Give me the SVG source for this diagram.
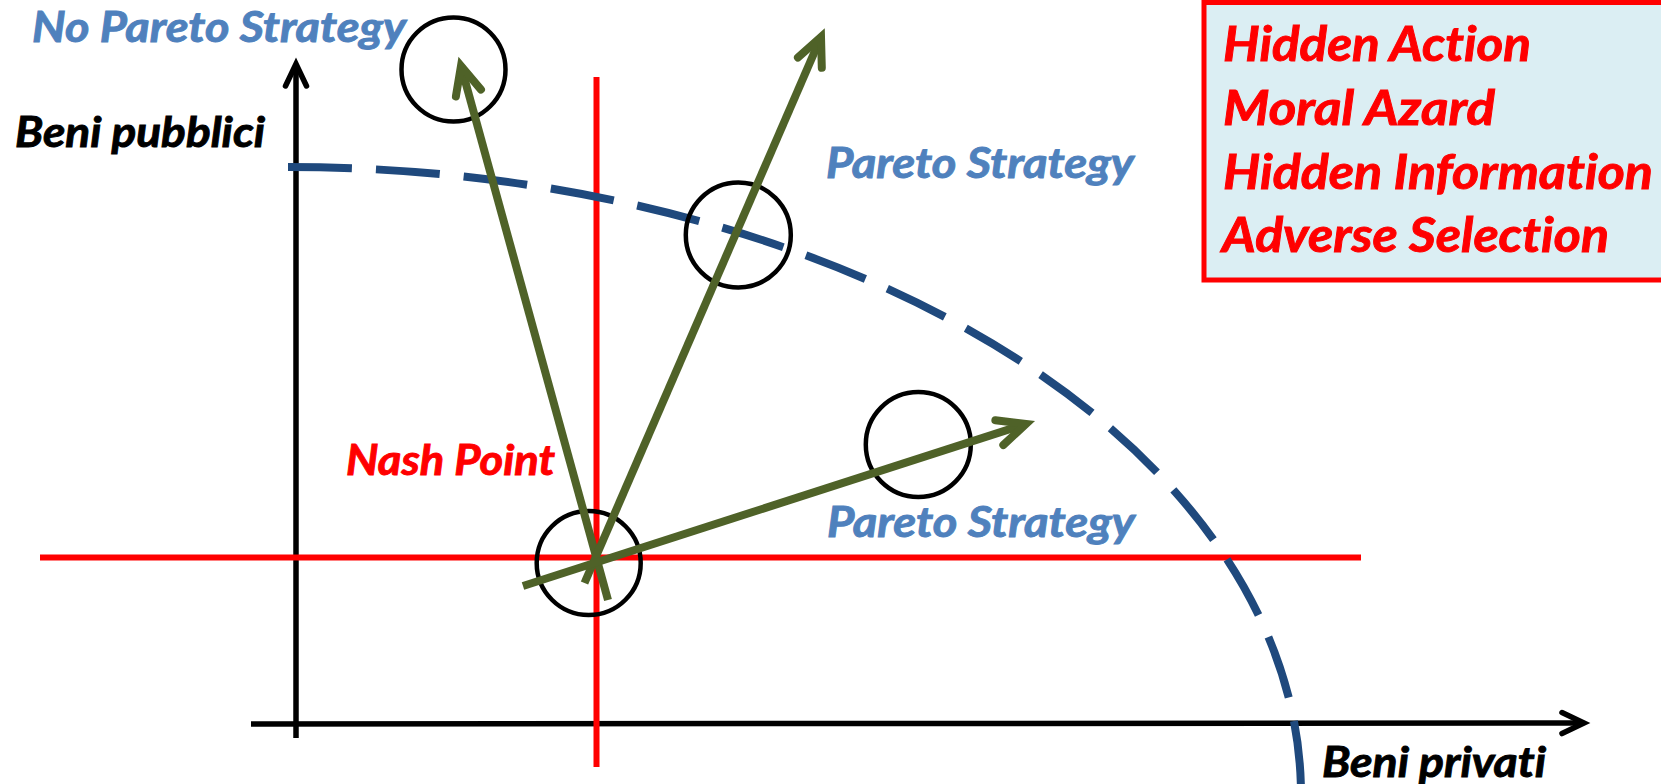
<svg xmlns="http://www.w3.org/2000/svg" width="1661" height="784" viewBox="0 0 1661 784">
<style>
.lbl{font-family:Lato,"Open Sans","Liberation Sans",sans-serif;font-weight:bold;font-style:italic;font-variant-ligatures:none;stroke-width:0.9;}
.blue{fill:#4F81BD;stroke:#4F81BD;font-size:41.5px;}
.black{fill:#000000;stroke:#000000;font-size:41.5px;}
.red{fill:#FF0000;stroke:#FF0000;font-size:41.5px;}
.boxt{fill:#FF0000;stroke:#FF0000;font-size:47px;}
.axis{stroke:#000000;stroke-width:5.5;fill:none;}
.redl{stroke:#FF0000;stroke-width:6;fill:none;}
.ring{stroke:#000000;stroke-width:4.5;fill:none;}
.garrow{stroke:#4F6228;stroke-width:8;fill:none;}
</style>
<defs>
<marker id="gchev" markerUnits="userSpaceOnUse" orient="auto" markerWidth="60" markerHeight="60" viewBox="-40 -30 60 60" refX="0" refY="0" overflow="visible">
<path d="M -28 -13 L 0 0 L -28 13" fill="none" stroke="#4F6228" stroke-width="8" stroke-linecap="round" stroke-linejoin="miter"/>
</marker>
<marker id="kchev" markerUnits="userSpaceOnUse" orient="auto" markerWidth="60" markerHeight="60" viewBox="-40 -30 60 60" refX="0" refY="0" overflow="visible">
<path d="M -22 -10.5 L 0 0 L -22 10.5" fill="none" stroke="#000000" stroke-width="5.5" stroke-linecap="round" stroke-linejoin="miter"/>
</marker>
</defs>
<rect width="1661" height="784" fill="#FFFFFF"/>

<g id="info-box">
<rect x="1204" y="2.5" width="470" height="277.5" fill="#DBEEF3" stroke="#FF0000" stroke-width="5"/>
<text class="lbl boxt" x="1223" y="61" textLength="308" lengthAdjust="spacingAndGlyphs">Hidden Action</text>
<text class="lbl boxt" x="1223" y="125" textLength="272" lengthAdjust="spacingAndGlyphs">Moral Azard</text>
<text class="lbl boxt" x="1223" y="189" textLength="430" lengthAdjust="spacingAndGlyphs">Hidden Information</text>
<text class="lbl boxt" x="1222" y="252" textLength="387" lengthAdjust="spacingAndGlyphs">Adverse Selection</text>
</g>

<g id="connectors">
<line id="y-axis" class="axis" x1="296" y1="738" x2="296" y2="64" marker-end="url(#kchev)"/>
<line id="x-axis" class="axis" x1="251" y1="724" x2="1584" y2="723" marker-end="url(#kchev)"/>
<line id="nash-vertical" class="redl" x1="596.5" y1="77" x2="596.5" y2="767"/>
<line id="nash-horizontal" class="redl" x1="40" y1="557.5" x2="1361" y2="557.5"/>
<path id="frontier" d="M 288 167 A 1013 628 0 0 1 1301 795" fill="none" stroke="#1F497D" stroke-width="8" stroke-dasharray="64 24"/>
</g>

<g id="circle-no-pareto"><circle class="ring" cx="453.5" cy="69.5" r="52"/></g>
<g id="circle-pareto-up"><circle class="ring" cx="738.3" cy="235" r="52.5"/></g>
<g id="circle-pareto-right"><circle class="ring" cx="918.3" cy="444.5" r="52.5"/></g>
<g id="circle-nash"><circle class="ring" cx="588.7" cy="563" r="52"/></g>

<g id="strategy-arrows">
<line class="garrow" x1="608" y1="600" x2="461" y2="66" marker-end="url(#gchev)"/>
<line class="garrow" x1="584.5" y1="583" x2="821" y2="37" marker-end="url(#gchev)"/>
<line class="garrow" x1="523" y1="586" x2="1026" y2="424" marker-end="url(#gchev)"/>
</g>

<g id="labels">
<text id="lbl-no-pareto" class="lbl blue" x="32" y="42" textLength="374" lengthAdjust="spacingAndGlyphs">No Pareto Strategy</text>
<text id="lbl-beni-pubblici" class="lbl black" x="15" y="146.5" textLength="250" lengthAdjust="spacingAndGlyphs">Beni pubblici</text>
<text id="lbl-pareto-up" class="lbl blue" x="826" y="177.5" textLength="308" lengthAdjust="spacingAndGlyphs">Pareto Strategy</text>
<text id="lbl-nash" class="lbl red" x="346" y="475" textLength="209" lengthAdjust="spacingAndGlyphs">Nash Point</text>
<text id="lbl-pareto-right" class="lbl blue" x="827" y="536.5" textLength="308" lengthAdjust="spacingAndGlyphs">Pareto Strategy</text>
<text id="lbl-beni-privati" class="lbl black" x="1322" y="776.5" textLength="224" lengthAdjust="spacingAndGlyphs">Beni privati</text>
</g>
</svg>
